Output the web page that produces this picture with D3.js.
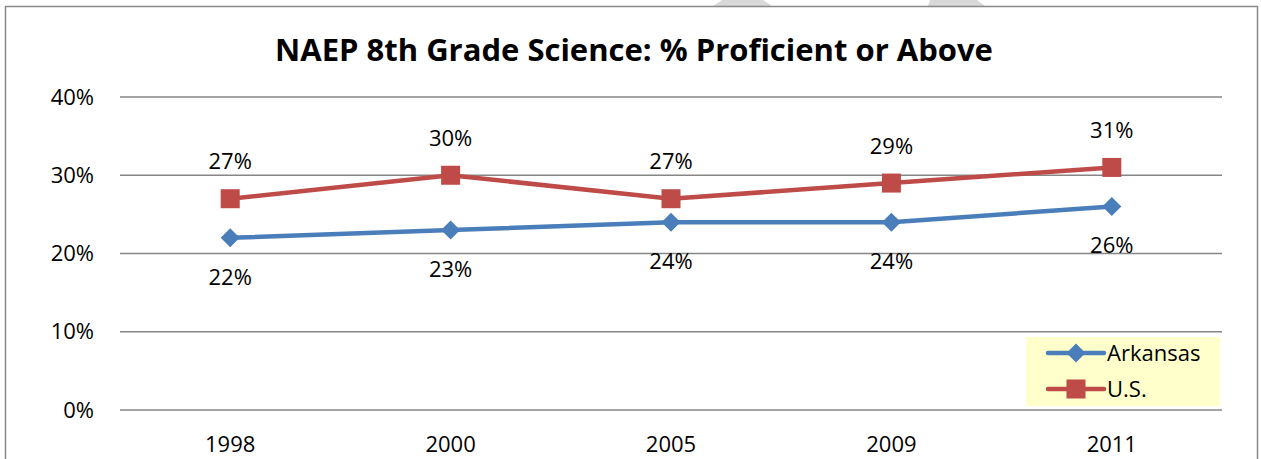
<!DOCTYPE html>
<html>
<head>
<meta charset="utf-8">
<script src="https://cdn.jsdelivr.net/npm/d3@7"></script>
<style>
  body { margin: 0; background: #fff; }
  text { font-family: "Open Sans", "Liberation Sans", sans-serif; fill: #000; }
</style>
</head>
<body>
<div id="chart"></div>
<script>
const years = ["1998", "2000", "2005", "2009", "2011"];
const arkansas = [22, 23, 24, 24, 26];
const us = [27, 30, 27, 29, 31];
const yTicks = [0, 10, 20, 30, 40];
const seriesNames = ["Arkansas", "U.S."];
const chartTitle = "NAEP 8th Grade Science: % Proficient or Above";

const fullWidth = 1261, fullHeight = 459;
const margin = { top: 97, right: 39, bottom: 49, left: 120 };
const width = fullWidth - margin.left - margin.right,
  height = fullHeight - margin.top - margin.bottom;

const blue = "#4A7EBB", red = "#BE4B48";
const labelSize = "22px";

const root = d3
  .select("#chart")
  .append("svg")
  .attr("width", fullWidth)
  .attr("height", fullHeight);

// watermark fragments peeking above the frame
root.append("polygon").attr("points", "722,0 763,0 772,6 713,6").attr("fill", "#d9d9d9");
root.append("polygon").attr("points", "930,0 977,0 985,6 928,6").attr("fill", "#d9d9d9");

// outer frame
root
  .append("rect")
  .attr("x", 5.5)
  .attr("y", 6.5)
  .attr("width", 1252)
  .attr("height", 460)
  .attr("fill", "#fff")
  .attr("stroke", "#888")
  .attr("stroke-width", 1.5);

root
  .append("text")
  .attr("x", 634)
  .attr("y", 61)
  .style("text-anchor", "middle")
  .style("font-weight", "bold")
  .style("font-size", "31px")
  .text(chartTitle);

const svg = root.append("g").attr("transform", `translate(${margin.left},${margin.top})`);

const x = d3.scalePoint().domain(years).range([0, width]).padding(0.5);
const y = d3.scaleLinear().domain([0, 40]).range([height, 0]);

// gridlines
svg
  .append("g")
  .selectAll("line")
  .data(yTicks)
  .enter()
  .append("line")
  .attr("x1", 0)
  .attr("x2", width)
  .attr("y1", (d) => y(d))
  .attr("y2", (d) => y(d))
  .attr("stroke", "#868686")
  .attr("stroke-width", 1.5);

// y labels
svg
  .append("g")
  .selectAll("text")
  .data(yTicks)
  .enter()
  .append("text")
  .attr("x", -26)
  .attr("y", (d) => y(d))
  .attr("dy", "0.35em")
  .style("text-anchor", "end")
  .style("font-size", labelSize)
  .text((d) => d + "%");

// x labels
svg
  .append("g")
  .selectAll("text")
  .data(years)
  .enter()
  .append("text")
  .attr("x", (d) => x(d))
  .attr("y", height + 34)
  .attr("dy", "0.35em")
  .style("text-anchor", "middle")
  .style("font-size", labelSize)
  .text((d) => d);

const line = d3
  .line()
  .x((d) => x(d.year))
  .y((d) => y(d.value));

const arkData = years.map((yr, i) => ({ year: yr, value: arkansas[i] }));
const usData = years.map((yr, i) => ({ year: yr, value: us[i] }));

svg
  .append("path")
  .datum(arkData)
  .attr("d", line)
  .attr("fill", "none")
  .attr("stroke", blue)
  .attr("stroke-width", 4.5);

svg
  .append("path")
  .datum(usData)
  .attr("d", line)
  .attr("fill", "none")
  .attr("stroke", red)
  .attr("stroke-width", 4.5);

const diamond = (s) => `M0,${-s} L${s},0 L0,${s} L${-s},0 Z`;

svg
  .append("g")
  .selectAll("path")
  .data(arkData)
  .enter()
  .append("path")
  .attr("transform", (d) => `translate(${x(d.year)},${y(d.value)})`)
  .attr("d", diamond(9.5))
  .attr("fill", blue);

svg
  .append("g")
  .selectAll("rect")
  .data(usData)
  .enter()
  .append("rect")
  .attr("x", (d) => x(d.year) - 9.5)
  .attr("y", (d) => y(d.value) - 9.5)
  .attr("width", 19)
  .attr("height", 19)
  .attr("fill", red);

// data labels
svg
  .append("g")
  .selectAll("text")
  .data(usData)
  .enter()
  .append("text")
  .attr("x", (d) => x(d.year))
  .attr("y", (d) => y(d.value) - 37)
  .attr("dy", "0.35em")
  .style("text-anchor", "middle")
  .style("font-size", labelSize)
  .text((d) => d.value + "%");

svg
  .append("g")
  .selectAll("text")
  .data(arkData)
  .enter()
  .append("text")
  .attr("x", (d) => x(d.year))
  .attr("y", (d) => y(d.value) + 39)
  .attr("dy", "0.35em")
  .style("text-anchor", "middle")
  .style("font-size", labelSize)
  .text((d) => d.value + "%");

// legend
const legend = root.append("g").attr("transform", "translate(1026,337)");
legend.append("rect").attr("width", 194).attr("height", 69).attr("fill", "#FFFFCC");

const colors = [blue, red];
seriesNames.forEach((name, i) => {
  const ly = 16 + i * 36;
  legend
    .append("line")
    .attr("x1", 22)
    .attr("x2", 78)
    .attr("y1", ly)
    .attr("y2", ly)
    .attr("stroke", colors[i])
    .attr("stroke-width", 4.5)
    .attr("stroke-linecap", "round");
  if (i === 0) {
    legend.append("path").attr("transform", `translate(50,${ly})`).attr("d", diamond(9.5)).attr("fill", colors[i]);
  } else {
    legend.append("rect").attr("x", 40.5).attr("y", ly - 9.5).attr("width", 19).attr("height", 19).attr("fill", colors[i]);
  }
  legend
    .append("text")
    .attr("x", 81)
    .attr("y", ly)
    .attr("dy", "0.35em")
    .style("font-size", labelSize)
    .text(name);
});
</script>
</body>
</html>
